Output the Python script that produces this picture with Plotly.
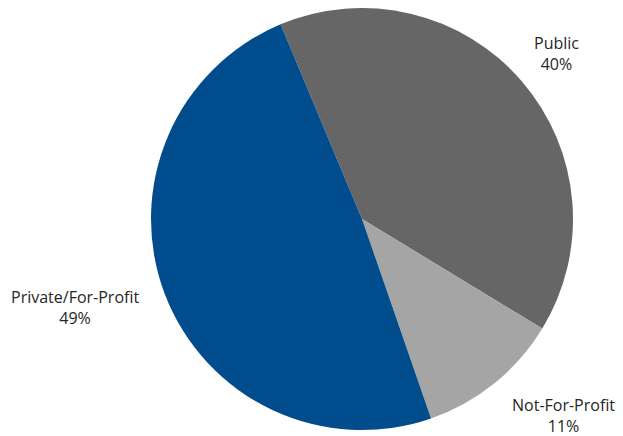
import plotly.graph_objects as go

# Share of facilities by ownership type
categories = ["Public", "Not-For-Profit", "Private/For-Profit"]
shares = [40, 11, 49]
colors = ["#666666", "#a5a5a5", "#004c8c"]

# Label anchor points (paper coordinates) for the outside labels
label_x = [0.894, 0.904, 0.12]
label_y = [0.878, 0.046, 0.294]

W, H = 623, 436
cx, cy, r = 362, 219, 211

fig = go.Figure(
    go.Pie(
        labels=categories,
        values=shares,
        marker=dict(colors=colors, line=dict(width=0)),
        sort=False,
        direction="clockwise",
        rotation=-22.7,
        textinfo="none",
        hoverinfo="label+percent",
        showlegend=False,
        domain=dict(
            x=[(cx - r) / W, (cx + r) / W],
            y=[(H - cy - r) / H, (H - cy + r) / H],
        ),
    )
)

for name, val, x, y in zip(categories, shares, label_x, label_y):
    fig.add_annotation(
        x=x, y=y, xref="paper", yref="paper",
        xanchor="center", yanchor="middle",
        text=f"{name}<br>{val}%",
        showarrow=False,
        align="center",
        font=dict(family="Open Sans, Noto Sans, sans-serif", size=16, color="#262626"),
    )

fig.update_layout(
    width=W, height=H,
    margin=dict(l=0, r=0, t=0, b=0),
    paper_bgcolor="white",
    plot_bgcolor="white",
)

fig.write_html("out.html")
